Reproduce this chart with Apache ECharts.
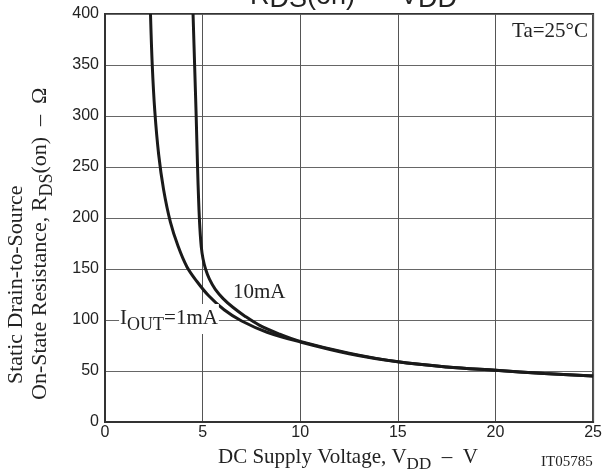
<!DOCTYPE html>
<html><head><meta charset="utf-8">
<script src="https://cdn.jsdelivr.net/npm/echarts@6/dist/echarts.min.js"></script>
<style>html,body{margin:0;padding:0;background:#fff}#c{width:605px;height:475px}</style>
</head><body><div id="c"></div>
<script>
// Data
const xTicks = [0, 5, 10, 15, 20, 25];
const yTicks = [0, 50, 100, 150, 200, 250, 300, 350, 400];
const vdd1mA = [2.33, 2.42, 2.55, 2.75, 3.0, 3.35, 3.75, 4.2, 4.7, 5.3, 6.1, 7.0, 8.3, 10, 12.5, 15, 17.5, 20, 22.5, 25];
const rds1mA = [400, 350, 305, 262, 228, 196, 172, 152, 138, 124, 110, 99, 88, 78.5, 67, 59, 54, 50.7, 47.5, 45];
const vdd10mA = [4.51, 4.59, 4.67, 4.74, 4.80, 4.86, 4.93, 5.02, 5.15, 5.35, 5.65, 6.05, 6.55, 7.15, 7.9, 8.9, 10, 12.5, 15, 17.5, 20, 22.5, 25];
const rds10mA = [400, 350, 300, 250, 215, 190, 172, 160, 150, 140, 130, 121, 112.5, 104, 95, 86.5, 79, 67.5, 59, 54, 50.7, 47.5, 45];

const pair = (xs, ys) => xs.map((x, i) => [x, ys[i]]);
const serif = '"Liberation Serif", "Times New Roman", serif';
const sans = '"Liberation Sans", Arial, sans-serif';
const ink = '#1a1a1a';
const txt = '#222';

const chart = echarts.init(document.getElementById('c'));
chart.setOption({
  animation: false,
  backgroundColor: '#fff',
  grid: { left: 105, right: 10, top: 14, bottom: 53, show: true, borderColor: '#333', borderWidth: 2 },
  xAxis: {
    type: 'value', min: xTicks[0], max: xTicks[xTicks.length - 1], interval: 5,
    axisLine: { show: true, lineStyle: { color: '#333', width: 2 } },
    axisTick: { show: false },
    axisLabel: { color: txt, fontFamily: sans, fontSize: 16, margin: 3 },
    splitLine: { show: true, lineStyle: { color: '#555', width: 1 } }
  },
  yAxis: {
    type: 'value', min: yTicks[0], max: yTicks[yTicks.length - 1], interval: 50,
    axisLine: { show: true, lineStyle: { color: '#333', width: 2 } },
    axisTick: { show: false },
    axisLabel: { color: txt, fontFamily: sans, fontSize: 16, margin: 6 },
    splitLine: { show: true, lineStyle: { color: '#666', width: 1 } }
  },
  series: [
    {
      name: '1mA', type: 'line', data: pair(vdd1mA, rds1mA), symbol: 'none',
      smooth: 0.35, lineStyle: { color: ink, width: 3 }, z: 3
    },
    {
      name: '10mA', type: 'line', data: pair(vdd10mA, rds10mA), symbol: 'none',
      smooth: 0.35, lineStyle: { color: ink, width: 3 }, z: 3,
      markPoint: {
        symbol: 'rect', symbolSize: 0, silent: true,
        data: [
          { coord: [6.55, 126.5], label: { show: true, position: 'right', distance: 0, formatter: '10mA',
            color: txt, fontFamily: serif, fontSize: 21 } },
          { coord: [0.72, 101], label: { show: true, position: 'right', distance: 0,
            formatter: '{m|I}{s|OUT}{m|=1mA}', backgroundColor: '#fff', padding: [0, 1, 0, 1],
            rich: {
              m: { color: txt, fontFamily: serif, fontSize: 21, verticalAlign: 'middle' },
              s: { color: txt, fontFamily: serif, fontSize: 18, padding: [12, 0, 0, 0], verticalAlign: 'middle' }
            } } }
        ]
      }
    }
  ],
  graphic: [
    { type: 'text', left: 250, top: -17, z: 10, style: {
      text: '{m|R}{s|DS}{m|(on)  –  V}{s|DD}', fill: txt,
      rich: { m: { fontFamily: sans, fontSize: 27, fill: txt }, s: { fontFamily: sans, fontSize: 27, fill: txt, padding: [6, 0, 0, 0] } } } },
    { type: 'text', right: 17, top: 21, z: 10, style: { text: 'Ta=25°C', fill: txt, font: '21px ' + serif } },
    { type: 'text', left: 218, top: 447, z: 10, style: {
      text: '{m|DC Supply Voltage, V}{s|DD}{m|  –  V}',
      rich: { m: { fontFamily: serif, fontSize: 21, fill: txt, verticalAlign: 'top' }, s: { fontFamily: serif, fontSize: 17, fill: txt, padding: [9, 0, 0, 0], verticalAlign: 'top' } } } },
    { type: 'text', left: 541, top: 455, z: 10, style: { text: 'IT05785', fill: txt, font: '15px ' + serif } },
    { type: 'text', x: 5, y: 384, rotation: Math.PI / 2, z: 10, style: {
      text: 'Static Drain-to-Source', fill: txt, font: '22px ' + serif, verticalAlign: 'top', align: 'left' } },
    { type: 'text', x: 29, y: 400, rotation: Math.PI / 2, z: 10, style: {
      text: '{m|On-State Resistance, R}{s|DS}{m|(on)  –  Ω}', verticalAlign: 'top', align: 'left',
      rich: { m: { fontFamily: serif, fontSize: 22, fill: txt, verticalAlign: 'top' }, s: { fontFamily: serif, fontSize: 18, fill: txt, padding: [9, 0, 0, 0], verticalAlign: 'top' } } } }
  ]
});
</script>
</body></html>
